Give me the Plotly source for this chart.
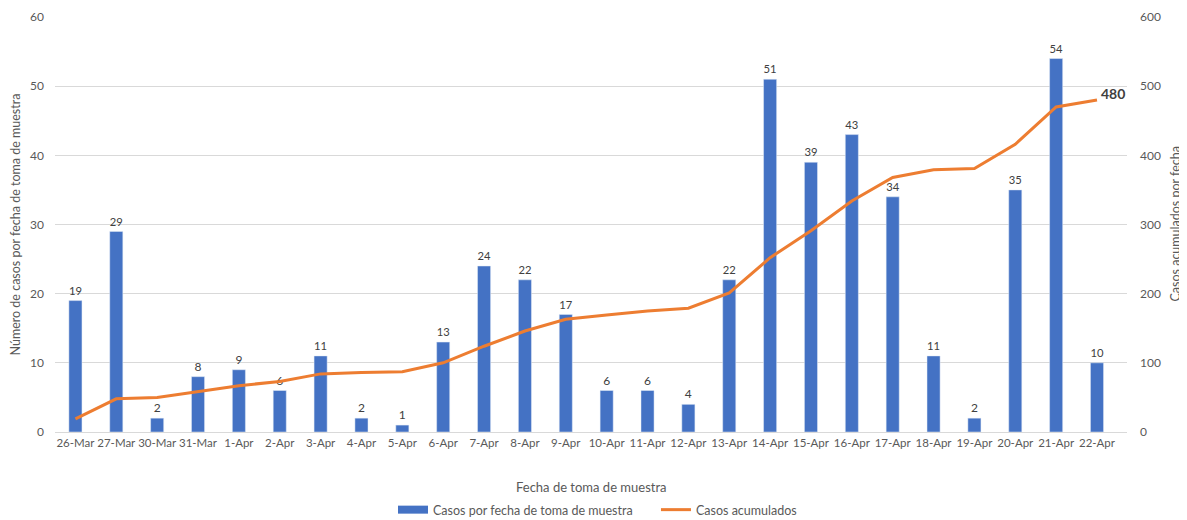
import plotly.graph_objects as go

categories = ["26-Mar", "27-Mar", "30-Mar", "31-Mar", "1-Apr", "2-Apr", "3-Apr", "4-Apr", "5-Apr",
              "6-Apr", "7-Apr", "8-Apr", "9-Apr", "10-Apr", "11-Apr", "12-Apr", "13-Apr", "14-Apr",
              "15-Apr", "16-Apr", "17-Apr", "18-Apr", "19-Apr", "20-Apr", "21-Apr", "22-Apr"]
casos_fecha = [19, 29, 2, 8, 9, 6, 11, 2, 1, 13, 24, 22, 17, 6, 6, 4, 22, 51, 39, 43, 34, 11, 2, 35, 54, 10]
casos_acumulados = [19, 48, 50, 58, 67, 73, 84, 86, 87, 100, 124, 146, 163, 169, 175, 179, 201, 252,
                    291, 334, 368, 379, 381, 416, 470, 480]

FONT = "Lato, Open Sans, sans-serif"
GREY = "#595959"
BLUE = "#4472C4"
ORANGE = "#ED7D31"

fig = go.Figure()
fig.add_trace(go.Bar(
    x=categories, y=casos_fecha, name="Casos por fecha de toma de muestra",
    marker=dict(color=BLUE), width=0.32, showlegend=False,
    text=casos_fecha, textposition="outside", cliponaxis=False,
    textfont=dict(size=12, color="#404040", family=FONT),
))
# legend entry styled as a wide rectangle, like the reference
fig.add_trace(go.Scatter(
    x=[None], y=[None], name="Casos por fecha de toma de muestra",
    mode="lines", line=dict(color=BLUE, width=8), legend="legend",
))
fig.add_trace(go.Scatter(
    x=categories, y=casos_acumulados, name="Casos acumulados", yaxis="y2",
    mode="lines", line=dict(color=ORANGE, width=3), legend="legend2",
))
fig.add_annotation(
    x=categories[-1], y=casos_acumulados[-1], yref="y2", text="<b>480</b>",
    showarrow=False, xanchor="left", yanchor="bottom", xshift=2, yshift=-4,
    font=dict(size=14, color="#404040", family=FONT),
)
# axis titles placed as in the reference
fig.add_annotation(
    xref="paper", yref="paper", x=0, xshift=-40, xanchor="center", y=0.5,
    text="Número de casos por fecha de toma de muestra",
    textangle=-90, showarrow=False, font=dict(size=12.5, color=GREY, family=FONT),
)
fig.add_annotation(
    xref="paper", yref="paper", x=1, xshift=48, xanchor="center", y=0.5,
    text="Casos acumulados por fecha",
    textangle=-90, showarrow=False, font=dict(size=12.5, color=GREY, family=FONT),
)
fig.add_annotation(
    xref="paper", yref="paper", x=0.5, y=0, yshift=-55, yanchor="middle",
    text="Fecha de toma de muestra",
    showarrow=False, font=dict(size=13, color=GREY, family=FONT),
)

# the page body has an 8px margin; the figure is sized so the chart lands where the reference has it
fig.update_layout(
    width=1179, height=512,
    margin=dict(l=47, r=60, t=9, b=88, autoexpand=False),
    plot_bgcolor="white", paper_bgcolor="white",
    font=dict(family=FONT, size=12, color=GREY),
    xaxis=dict(
        showgrid=False, showline=True, linecolor="#D9D9D9", linewidth=1,
        ticks="", tickfont=dict(size=11.5, color=GREY), tickangle=0, automargin=False,
    ),
    yaxis=dict(
        range=[0, 60], dtick=10, showgrid=True, gridcolor="#D9D9D9", gridwidth=1,
        zeroline=False, tickfont=dict(size=12, color=GREY), ticklabelstandoff=10, automargin=False,
    ),
    yaxis2=dict(
        range=[0, 600], dtick=100, overlaying="y", side="right", showgrid=False,
        zeroline=False, tickfont=dict(size=12, color=GREY), ticklabelstandoff=12, automargin=False,
    ),
    legend=dict(
        orientation="h", x=0.3153, xanchor="left", y=-0.188, yanchor="middle",
        font=dict(size=12.5, color=GREY),
    ),
    legend2=dict(
        orientation="h", x=0.5606, xanchor="left", y=-0.188, yanchor="middle",
        font=dict(size=12.5, color=GREY),
    ),
    showlegend=True,
)

fig.write_html("out.html")
